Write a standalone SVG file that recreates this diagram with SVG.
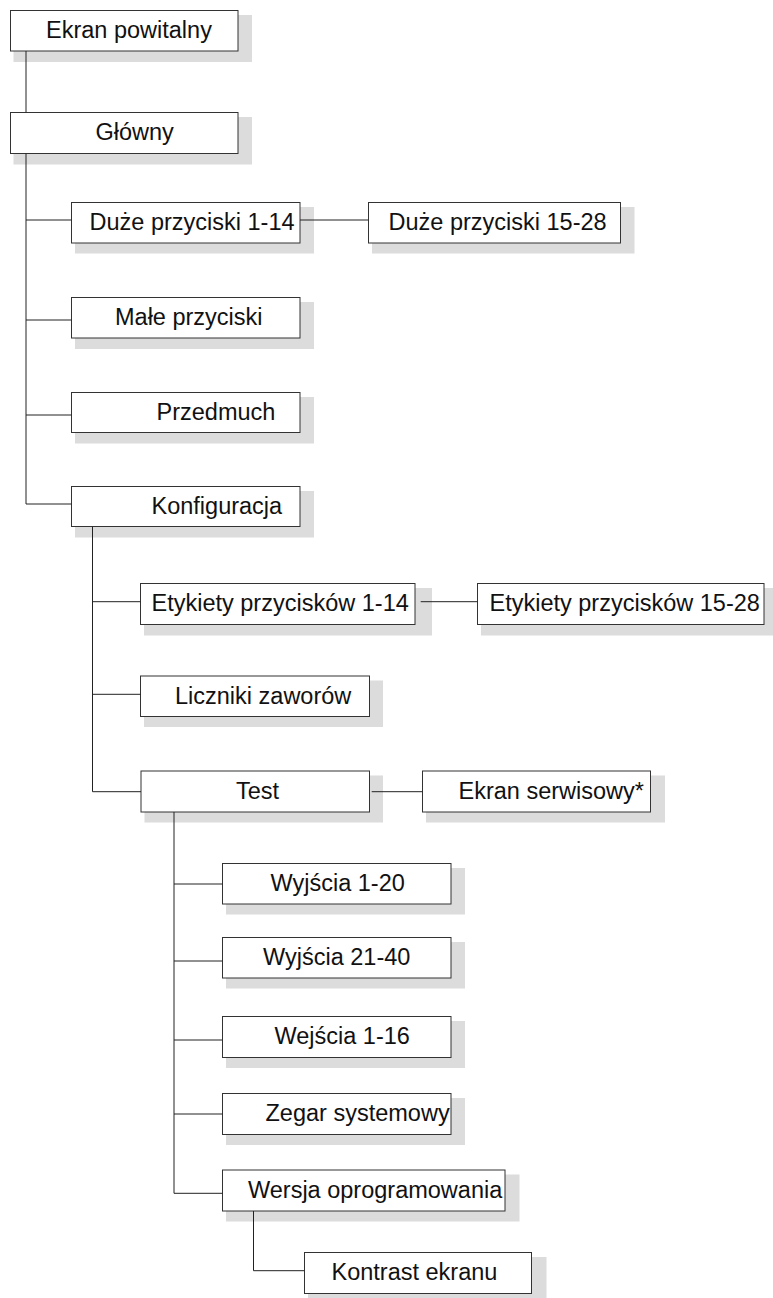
<svg xmlns="http://www.w3.org/2000/svg" width="773" height="1298" viewBox="0 0 773 1298">
<style>
.sh{fill:#dcdcdc;stroke:none}
.bx{fill:#fff;stroke:#333;stroke-width:1}
.t{font-family:"Liberation Sans",Arial,Helvetica,sans-serif;font-size:23.5px;fill:#111}
.c{stroke:#222;stroke-width:1;fill:none}
</style>
<rect width="773" height="1298" fill="#fff"/>
<g id="n1"><rect class="sh" x="13.5" y="15" width="238.5" height="47"/><rect class="bx" x="10.5" y="10.5" width="227.5" height="40.5"/><text class="t" x="46" y="37.5">Ekran powitalny</text></g>
<g id="n2"><rect class="sh" x="13.5" y="117" width="238.5" height="47.5"/><rect class="bx" x="10.5" y="112.5" width="227.5" height="41"/><text class="t" x="95.5" y="140">Główny</text></g>
<g id="n3"><rect class="sh" x="75" y="207" width="239" height="46.5"/><rect class="bx" x="71.5" y="202.5" width="228.5" height="40.5"/><text class="t" x="89.5" y="230">Duże przyciski 1-14</text></g>
<g id="n4"><rect class="sh" x="372" y="207" width="262.5" height="46.5"/><rect class="bx" x="368.5" y="202.5" width="252" height="40.5"/><text class="t" x="388.5" y="230">Duże przyciski 15-28</text></g>
<g id="n5"><rect class="sh" x="75" y="302" width="239" height="47"/><rect class="bx" x="71.5" y="297.5" width="228.5" height="40.5"/><text class="t" x="115" y="325">Małe przyciski</text></g>
<g id="n6"><rect class="sh" x="75" y="397" width="239" height="46.5"/><rect class="bx" x="71.5" y="392.5" width="228.5" height="40"/><text class="t" x="156.5" y="420">Przedmuch</text></g>
<g id="n7"><rect class="sh" x="75" y="491" width="239" height="46.5"/><rect class="bx" x="71.5" y="486.5" width="228.5" height="40"/><text class="t" x="151.5" y="514">Konfiguracja</text></g>
<g id="n8"><rect class="sh" x="144" y="588" width="288" height="47.5"/><rect class="bx" x="140.5" y="583.5" width="274.5" height="41"/><text class="t" x="151.5" y="611">Etykiety przycisków 1-14</text></g>
<g id="n9"><rect class="sh" x="481" y="588" width="292" height="47.5"/><rect class="bx" x="477.5" y="583.5" width="286.5" height="41"/><text class="t" x="489.5" y="611">Etykiety przycisków 15-28</text></g>
<g id="n10"><rect class="sh" x="144" y="680.5" width="239" height="46.5"/><rect class="bx" x="140.5" y="676" width="229" height="40.5"/><text class="t" x="175" y="703.5">Liczniki zaworów</text></g>
<g id="n11"><rect class="sh" x="144.5" y="775.5" width="238.5" height="47"/><rect class="bx" x="141" y="771" width="228.5" height="41"/><text class="t" x="236" y="798.5">Test</text></g>
<g id="n12"><rect class="sh" x="426" y="775.5" width="239" height="47"/><rect class="bx" x="422.5" y="771" width="228" height="41"/><text class="t" x="458.5" y="798.5">Ekran serwisowy*</text></g>
<g id="n13"><rect class="sh" x="226" y="868" width="239" height="46.5"/><rect class="bx" x="222.5" y="863.5" width="228.5" height="40.5"/><text class="t" x="270.5" y="891">Wyjścia 1-20</text></g>
<g id="n14"><rect class="sh" x="226" y="942" width="239" height="46.5"/><rect class="bx" x="222.5" y="937.5" width="228.5" height="40.5"/><text class="t" x="263" y="965">Wyjścia 21-40</text></g>
<g id="n15"><rect class="sh" x="226" y="1021" width="239" height="47"/><rect class="bx" x="222.5" y="1016.5" width="228.5" height="41"/><text class="t" x="274.5" y="1044">Wejścia 1-16</text></g>
<g id="n16"><rect class="sh" x="226" y="1098" width="239" height="47"/><rect class="bx" x="222.5" y="1093.5" width="228.5" height="41"/><text class="t" x="265.5" y="1121">Zegar systemowy</text></g>
<g id="n17"><rect class="sh" x="226" y="1174.5" width="293.5" height="47"/><rect class="bx" x="222.5" y="1170" width="282.5" height="41"/><text class="t" x="248" y="1197.5">Wersja oprogramowania</text></g>
<g id="n18"><rect class="sh" x="308" y="1257" width="238.5" height="47"/><rect class="bx" x="304.5" y="1252.5" width="227" height="41"/><text class="t" x="331.5" y="1280">Kontrast ekranu</text></g>
<g id="connectors">
<path class="c" d="M26,51V112.5M26,153.5V504M26,220H71.5M26,320H71.5M26,415H71.5M26,504H71.5M300,220H368.5"/>
<path class="c" d="M92.5,526.5V791.7M92.5,601.7H140.5M92.5,694.3H140.5M92.5,791.7H141M420.7,601.7H477.5M371.7,791.7H422.5"/>
<path class="c" d="M174,812V1193.3M174,884H222.5M174,961H222.5M174,1040H222.5M174,1114H222.5M174,1193.3H222.5"/>
<path class="c" d="M253.5,1211V1270.7H304.5"/>
</g>
</svg>
